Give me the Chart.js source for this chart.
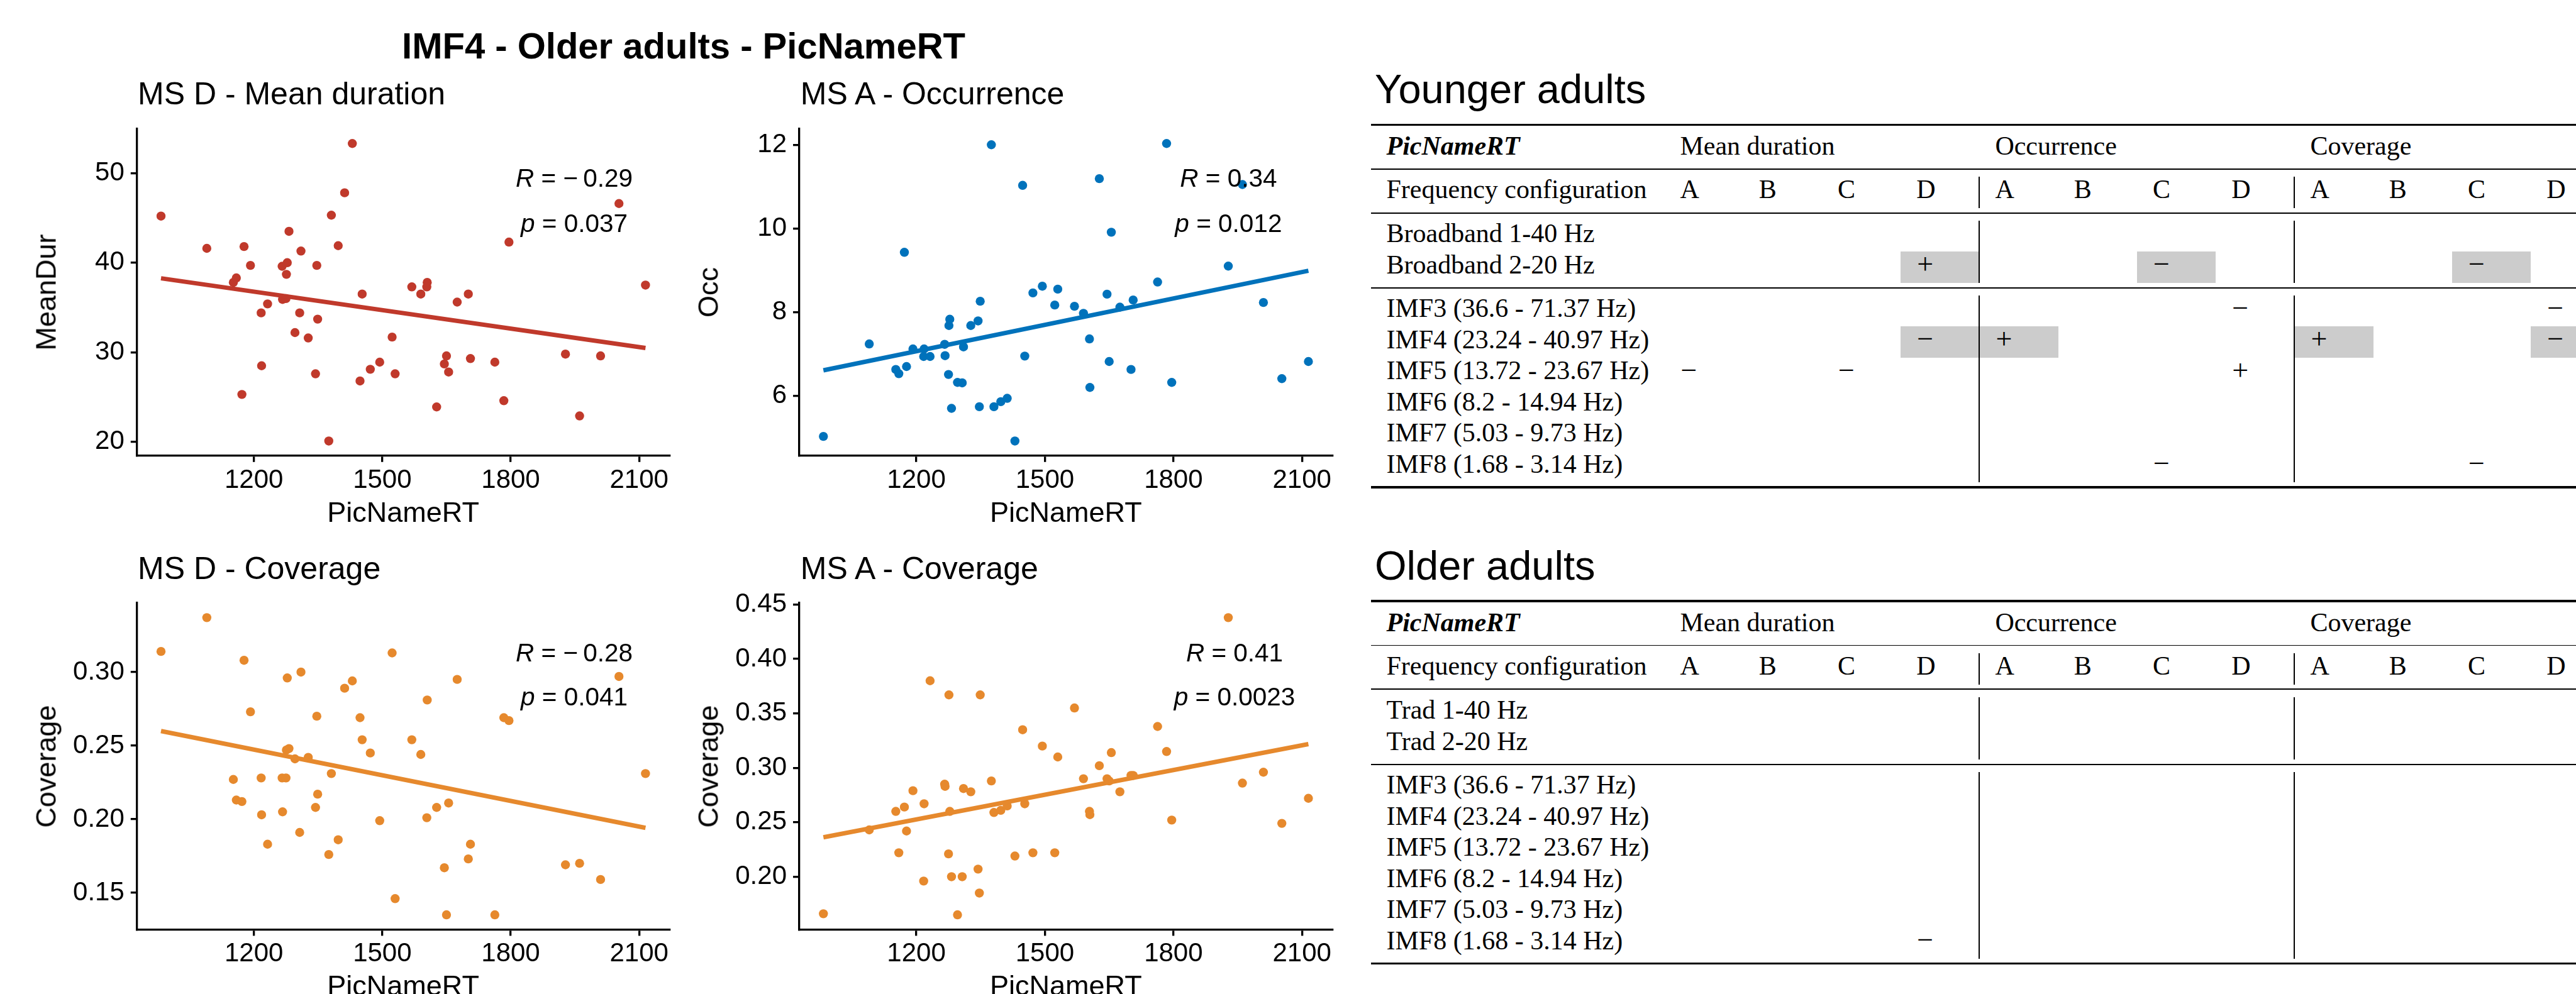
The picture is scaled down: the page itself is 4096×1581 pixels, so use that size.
<!DOCTYPE html>
<html><head><meta charset="utf-8">
<script src="https://cdn.jsdelivr.net/npm/chart.js@4.4.1/dist/chart.umd.min.js"></script>
<style>
html,body{margin:0;padding:0;background:#fff;}
#page{position:relative;width:4096px;height:1581px;overflow:hidden;background:#fff;}
.t{position:absolute;white-space:nowrap;line-height:1;color:#000;}
.sans{font-family:"Liberation Sans",Arial,sans-serif;}
.serif{font-family:"Liberation Serif","Times New Roman",serif;}
canvas{position:absolute;}
.rule{position:absolute;background:#000;}
.shade{position:absolute;background:#cccccc;}
</style></head><body><div id="page"></div>
<script>
// ---------------- DATA ----------------
const picNameRT = [983,1090,1152,1159,1172,1177,1192,1217,1218,1232,1266,1267,1275,1276,1278,1282,1296,1307,1310,1327,1344,1347,1349,1375,1381,1397,1412,1430,1448,1453,1472,1494,1523,1530,1569,1590,1604,1605,1627,1645,1650,1655,1675,1701,1706,1763,1784,1796,1928,1961,2010,2053,2115];
const meanDurD = [45.2,41.6,37.8,38.3,25.3,41.8,39.7,34.4,28.5,35.4,39.6,35.9,36.0,38.7,40.0,43.5,32.2,34.4,41.3,31.6,27.6,39.7,33.7,20.1,45.3,41.9,47.8,53.3,26.8,36.5,28.1,28.9,31.7,27.6,37.3,36.5,37.3,37.8,23.9,28.7,29.6,27.8,35.6,36.5,29.3,28.9,24.6,42.3,29.8,22.9,29.6,46.6,37.5];
const occA = [5.03,7.24,6.63,6.53,9.43,6.70,7.12,6.94,7.12,6.94,7.23,6.96,6.51,7.68,7.83,5.70,6.32,6.31,7.17,7.68,7.79,5.74,8.26,12.00,5.74,5.86,5.94,4.92,11.03,6.95,8.46,8.62,8.17,8.55,8.14,7.97,7.36,6.20,11.19,8.43,6.82,9.91,8.12,6.63,8.29,8.72,12.03,6.32,9.10,11.05,8.23,6.41,6.82];
const covD = [0.314,0.337,0.227,0.213,0.212,0.308,0.273,0.228,0.203,0.183,0.228,0.205,0.228,0.247,0.296,0.248,0.241,0.191,0.300,0.242,0.208,0.270,0.217,0.176,0.231,0.186,0.289,0.294,0.269,0.254,0.245,0.199,0.313,0.146,0.254,0.244,0.201,0.281,0.208,0.167,0.135,0.211,0.295,0.173,0.183,0.135,0.269,0.267,0.169,0.170,0.159,0.297,0.231];
const covA = [0.166,0.243,0.260,0.222,0.264,0.242,0.279,0.196,0.267,0.380,0.285,0.283,0.221,0.367,0.260,0.200,0.165,0.200,0.281,0.278,0.207,0.185,0.367,0.288,0.259,0.261,0.265,0.219,0.335,0.267,0.222,0.320,0.222,0.310,0.355,0.290,0.260,0.257,0.302,0.290,0.288,0.314,0.278,0.293,0.293,0.338,0.315,0.252,0.438,0.286,0.296,0.249,0.272];

// fitted regression line values at min / max PicNameRT
const fitMeanDurD = [38.26, 30.48];
const fitOccA = [6.61, 8.99];
const fitCovD = [0.2599, 0.1941];
const fitCovA = [0.2362, 0.3218];

const xTicks = [1200,1500,1800,2100];
const yTicksMeanDur = [20,30,40,50];
const yTicksOcc = [6,8,10,12];
const yTicksCovD = [0.15,0.20,0.25,0.30];
const yTicksCovA = [0.20,0.25,0.30,0.35,0.40,0.45];

const mainTitle = "IMF4 - Older adults - PicNameRT";
const panelTitles = ["MS D - Mean duration","MS A - Occurrence","MS D - Coverage","MS A - Coverage"];
const yTitles = ["MeanDur","Occ","Coverage","Coverage"];
const xTitle = "PicNameRT";
const corrR = ["R = −\u20090.29","R = 0.34","R = −\u20090.28","R = 0.41"];
const corrP = ["0.037","0.012","0.041","0.0023"];

// tables
const groupNames = ["Mean duration","Occurrence","Coverage"];
const msLetters = ["A","B","C","D"];
const imfRows = ["IMF3 (36.6 - 71.37 Hz)","IMF4 (23.24 - 40.97 Hz)","IMF5 (13.72 - 23.67 Hz)","IMF6 (8.2 - 14.94 Hz)","IMF7 (5.03 - 9.73 Hz)","IMF8 (1.68 - 3.14 Hz)"];
const youngerBandRows = ["Broadband 1-40 Hz","Broadband 2-20 Hz"];
const olderBandRows = ["Trad 1-40 Hz","Trad 2-20 Hz"];
// sign per row (band rows then IMF rows), 12 columns: MeanDur A-D, Occ A-D, Cov A-D
const youngerSigns = [
  ["","","","", "","","","", "","","",""],
  ["","","","+", "","","−","", "","","−",""],
  ["","","","", "","","","−", "","","","−"],
  ["","","","−", "+","","","", "+","","","−"],
  ["−","","−","", "","","","+", "","","",""],
  ["","","","", "","","","", "","","",""],
  ["","","","", "","","","", "","","",""],
  ["","","","", "","","−","", "","","−",""]
];
const youngerShaded = [
  [0,0,0,0, 0,0,0,0, 0,0,0,0],
  [0,0,0,1, 0,0,1,0, 0,0,1,0],
  [0,0,0,0, 0,0,0,0, 0,0,0,0],
  [0,0,0,1, 1,0,0,0, 1,0,0,1],
  [0,0,0,0, 0,0,0,0, 0,0,0,0],
  [0,0,0,0, 0,0,0,0, 0,0,0,0],
  [0,0,0,0, 0,0,0,0, 0,0,0,0],
  [0,0,0,0, 0,0,0,0, 0,0,0,0]
];
const olderSigns = [
  ["","","","", "","","","", "","","",""],
  ["","","","", "","","","", "","","",""],
  ["","","","", "","","","", "","","",""],
  ["","","","", "","","","", "","","",""],
  ["","","","", "","","","", "","","",""],
  ["","","","", "","","","", "","","",""],
  ["","","","", "","","","", "","","",""],
  ["","","","−", "","","","", "","","",""]
];
const olderShaded = olderSigns.map(r => r.map(() => 0));

// ---------------- COLOURS ----------------
const RED = "#C0392B", BLUE = "#0072BB", ORANGE = "#E6892D";

// ---------------- HELPERS ----------------
const page = document.getElementById('page');
function addText(html, x, baseline, size, o = {}) {
  const d = document.createElement('div');
  d.className = 't ' + (o.serif ? 'serif' : 'sans');
  d.innerHTML = html;
  d.style.fontSize = size + 'px';
  if (o.weight) d.style.fontWeight = o.weight;
  if (o.italic) d.style.fontStyle = 'italic';
  const k = o.serif ? 0.8375 : 0.8465;
  d.style.left = x + 'px';
  d.style.top = (baseline - k * size) + 'px';
  if (o.center) d.style.transform = 'translateX(-50%)';
  page.appendChild(d);
  return d;
}
function addRotText(html, cx, cy, size) {
  const d = document.createElement('div');
  d.className = 't sans';
  d.innerHTML = html;
  d.style.fontSize = size + 'px';
  d.style.left = cx + 'px';
  d.style.top = cy + 'px';
  d.style.transform = 'translate(-50%,-50%) rotate(-90deg)';
  page.appendChild(d);
}
function addBox(cls, x, y, w, h) {
  const d = document.createElement('div');
  d.className = cls;
  d.style.left = x + 'px'; d.style.top = y + 'px';
  d.style.width = w + 'px'; d.style.height = h + 'px';
  page.appendChild(d);
}
function expand(arr) {
  const mn = Math.min(...arr), mx = Math.max(...arr), r = mx - mn;
  return [mn - 0.05 * r, mx + 0.05 * r];
}

// ---------------- SCATTER PANELS ----------------
const AXW = 3.3, TICKLEN = 9.7, TICKFONT = 42;
const panels = [
  {ys: meanDurD, fit: fitMeanDurD, yTicks: yTicksMeanDur, color: RED, dec: 0,
   area: {left: 217.5, right: 1064.9, top: 204.6, bottom: 725.1}, titleX: 219, titleBase: 166.8,
   yTitleX: 73, rpX: 913, rBase: 297.7, pBase: 369.1, xTitleBase: 829.6},
  {ys: occA, fit: fitOccA, yTicks: yTicksOcc, color: BLUE, dec: 0,
   area: {left: 1270.7, right: 2119.0, top: 204.6, bottom: 725.1}, titleX: 1272.8, titleBase: 166.8,
   yTitleX: 1126, rpX: 1953.4, rBase: 297.7, pBase: 369.1, xTitleBase: 829.6},
  {ys: covD, fit: fitCovD, yTicks: yTicksCovD, color: ORANGE, dec: 2,
   area: {left: 217.5, right: 1064.9, top: 958.7, bottom: 1478.7}, titleX: 219, titleBase: 921.1,
   yTitleX: 73, rpX: 913, rBase: 1052.4, pBase: 1122.6, xTitleBase: 1583},
  {ys: covA, fit: fitCovA, yTicks: yTicksCovA, color: ORANGE, dec: 2,
   area: {left: 1270.7, right: 2119.0, top: 958.7, bottom: 1478.7}, titleX: 1272.8, titleBase: 921.1,
   yTitleX: 1126, rpX: 1963, rBase: 1052.4, pBase: 1122.6, xTitleBase: 1583}
];

const xRange = expand(picNameRT);
const xMin = Math.min(...picNameRT), xMax = Math.max(...picNameRT);

panels.forEach((p, i) => {
  const a = p.area;
  const cl = Math.floor(a.left - 150), ct = Math.floor(a.top - 40);
  const cw = Math.ceil(a.right + 30 - cl), ch = Math.ceil(a.bottom + 72 - ct);
  const yW = a.left - cl, xH = ct + ch - a.bottom;
  const cv = document.createElement('canvas');
  cv.width = cw; cv.height = ch;
  cv.style.left = cl + 'px'; cv.style.top = ct + 'px';
  cv.style.width = cw + 'px'; cv.style.height = ch + 'px';
  page.appendChild(cv);
  const yRange = expand(p.ys);
  const tickFont = {family: "'Liberation Sans', Arial, sans-serif", size: TICKFONT};
  new Chart(cv, {
    type: 'scatter',
    data: {datasets: [
      {label: 'fit', data: [{x: xMin, y: p.fit[0]}, {x: xMax, y: p.fit[1]}], showLine: true,
       borderColor: p.color, borderWidth: 7, pointRadius: 0, borderCapStyle: 'butt', order: 0},
      {label: 'obs', data: picNameRT.map((x, k) => ({x: x, y: p.ys[k]})),
       backgroundColor: p.color, pointBackgroundColor: p.color, pointBorderWidth: 0, borderWidth: 0,
       pointRadius: 7.2, order: 1}
    ]},
    options: {
      responsive: false, animation: false, devicePixelRatio: 1, events: [],
      layout: {padding: {top: a.top - ct, right: cl + cw - a.right, left: 0, bottom: 0}},
      plugins: {legend: {display: false}, tooltip: {enabled: false}},
      scales: {
        x: {type: 'linear', min: xRange[0], max: xRange[1],
            afterBuildTicks: s => { s.ticks = xTicks.map(v => ({value: v})); },
            afterFit: s => { s.height = xH; },
            grid: {drawOnChartArea: false, drawTicks: true, tickLength: TICKLEN, lineWidth: AXW, tickWidth: AXW, color: '#000', tickColor: '#000'},
            border: {display: true, color: '#000', width: AXW},
            ticks: {color: '#000', font: tickFont, padding: 4, maxRotation: 0, autoSkip: false, callback: v => String(v)}},
        y: {type: 'linear', min: yRange[0], max: yRange[1],
            afterBuildTicks: s => { s.ticks = p.yTicks.map(v => ({value: v})); },
            afterFit: s => { s.width = yW; },
            grid: {drawOnChartArea: false, drawTicks: true, tickLength: TICKLEN, lineWidth: AXW, tickWidth: AXW, color: '#000', tickColor: '#000'},
            border: {display: true, color: '#000', width: AXW},
            ticks: {color: '#000', font: tickFont, padding: 10, autoSkip: false, callback: v => Number(v).toFixed(p.dec)}}
      }
    }
  });
  // texts
  addText(panelTitles[i], p.titleX, p.titleBase, 50);
  addRotText(yTitles[i], p.yTitleX, (a.top + a.bottom) / 2, 45);
  addText(xTitle, (a.left + a.right) / 2, p.xTitleBase, 45, {center: true});
  addText('<i>R</i>' + corrR[i].slice(1), p.rpX, p.rBase, 40.5, {center: true});
  addText('<i>p</i> = ' + corrP[i], p.rpX, p.pBase, 40.5, {center: true});
});

addText(mainTitle, 1087, 92.7, 58, {center: true, weight: 'bold'});

// ---------------- TABLES ----------------
const T = {left: 2180.4, textLeft: 2204.5, cell0: 2646.4, cellW: 125.25, pad: 25, rowH: 49.5, font: 42};
function cellLeft(c) { return T.cell0 + c * T.cellW; }
function buildTable(yOff, title, bandRows, signs, shaded) {
  addText(title, 2186, 164 + yOff, 65);
  const ruleW = 4096 - T.left + 10;
  const rules = [[198.4, 3.6], [268.9, 1.4], [338.6, 2.0], [458.2, 2.0], [774.8, 3.6]];
  rules.forEach(r => addBox('rule', T.left, r[0] + yOff - r[1] / 2, ruleW, r[1]));
  // header 1
  addText('<b><i>PicNameRT</i></b>', T.textLeft, 246.1 + yOff, T.font, {serif: true});
  groupNames.forEach((g, gi) => addText(g, cellLeft(gi * 4) + T.pad, 246.1 + yOff, T.font, {serif: true}));
  // header 2
  addText('Frequency configuration', T.textLeft, 315.4 + yOff, T.font, {serif: true});
  for (let c = 0; c < 12; c++) addText(msLetters[c % 4], cellLeft(c) + T.pad, 315.4 + yOff, T.font, {serif: true});
  // body rows
  const rows = bandRows.concat(imfRows);
  rows.forEach((lab, r) => {
    const isBand = r < bandRows.length;
    const top = isBand ? 350.8 + r * T.rowH : 469.8 + (r - bandRows.length) * T.rowH;
    for (let c = 0; c < 12; c++) if (shaded[r][c]) addBox('shade', cellLeft(c), top + yOff, T.cellW, T.rowH);
    addText(lab, T.textLeft, top + 34.8 + yOff, T.font, {serif: true});
    for (let c = 0; c < 12; c++) if (signs[r][c]) addText(signs[r][c], cellLeft(c) + T.pad + 1, top + 35.5 + yOff, 46, {serif: true});
  });
  // vertical separators
  const spans = [[280.7, 330.8], [350.8, 449.9], [469.8, 766.8]];
  [4, 8].forEach(c => spans.forEach(s => addBox('rule', Math.round(cellLeft(c) - 1), Math.round(s[0] + yOff), 2, Math.round(s[1] - s[0]))));
}
buildTable(0, 'Younger adults', youngerBandRows, youngerSigns, youngerShaded);
buildTable(757.8, 'Older adults', olderBandRows, olderSigns, olderShaded);
</script>
</body></html>
